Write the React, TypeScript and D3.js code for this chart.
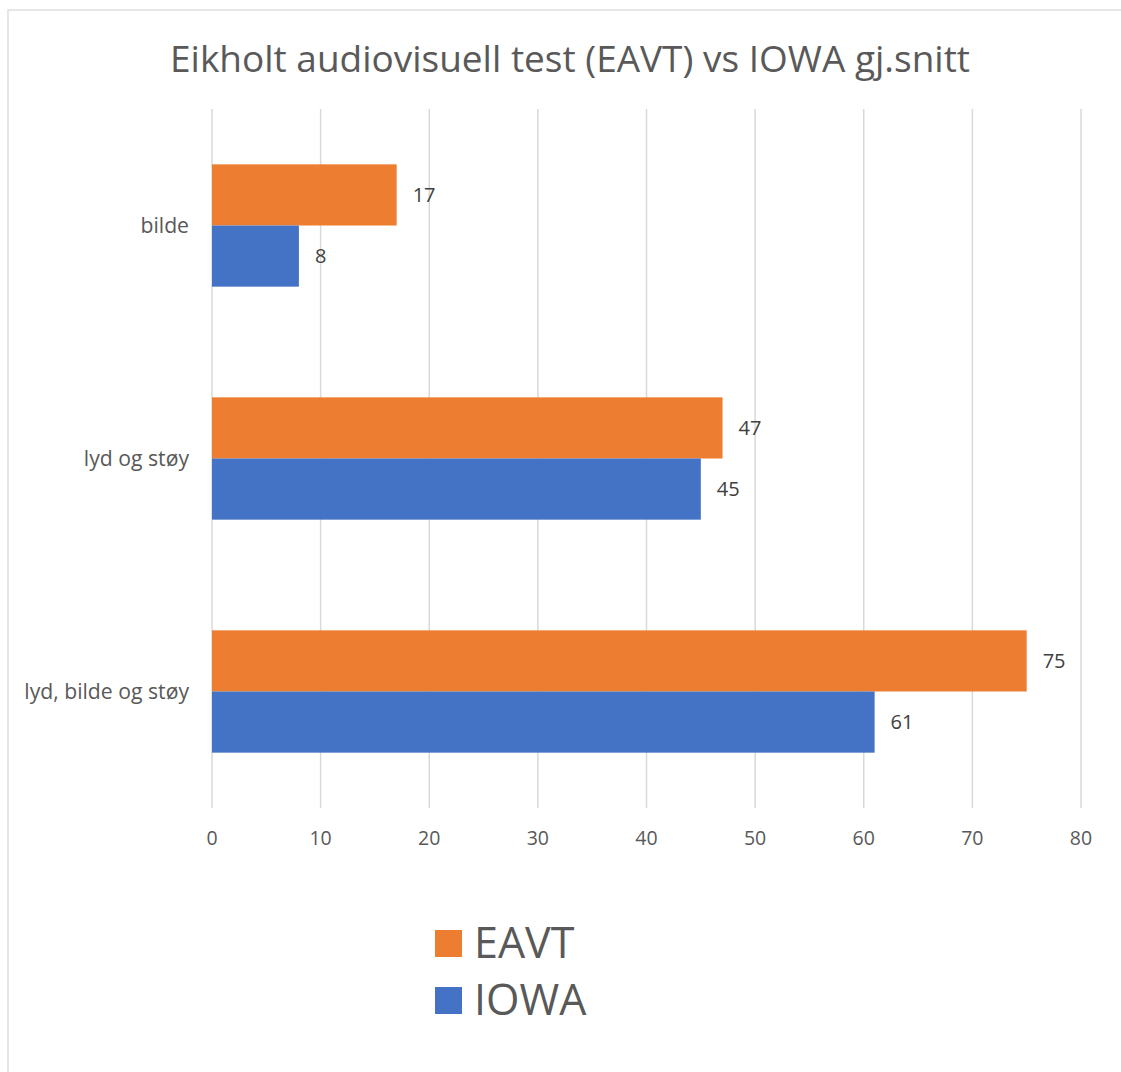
import React from "react";
import * as d3 from "d3";

const categories = ["bilde", "lyd og støy", "lyd, bilde og støy"];
const seriesNames = ["EAVT", "IOWA"];
const eavtValues = [17, 47, 75];
const iowaValues = [8, 45, 61];
const xTicks = [0, 10, 20, 30, 40, 50, 60, 70, 80];
const colors = ["#ED7D31", "#4472C4"];

const FONT = "'Open Sans', 'Noto Sans', sans-serif";

export default function App() {
  const W = 1121, H = 1072;
  const left = 212, right = 1081, top = 109, bottom = 808;
  const x = d3.scaleLinear().domain([0, 80]).range([left, right]);
  const y = d3.scaleBand<string>().domain(categories).range([top, bottom]).paddingInner(0.475).paddingOuter(0.2375);
  const inner = d3.scaleBand<string>().domain(seriesNames).range([0, y.bandwidth()]);
  const series = [eavtValues, iowaValues];

  return (
    <svg width={W} height={H} style={{ position: "absolute", left: 0, top: 0 }}>
      <rect x={0} y={0} width={W} height={H} fill="#fff" />
      <rect x={8} y={10} width={W + 10} height={H + 10} fill="#fff" stroke="#d9d9d9" strokeWidth={1.3} />
      <text x={570} y={72} textAnchor="middle" fontFamily={FONT} fontSize={37} fill="#595959" textLength={800} lengthAdjust="spacingAndGlyphs">
        Eikholt audiovisuell test (EAVT) vs IOWA gj.snitt
      </text>
      {xTicks.map((t) => (
        <g key={t}>
          <line x1={x(t)} x2={x(t)} y1={top} y2={bottom} stroke="#d9d9d9" strokeWidth={1.5} />
          <text x={x(t)} y={845} textAnchor="middle" fontFamily={FONT} fontSize={19.5} fill="#595959">{t}</text>
        </g>
      ))}
      {categories.map((c, i) => (
        <g key={c}>
          <text x={189} y={(y(c) as number) + y.bandwidth() / 2 + 7} textAnchor="end" fontFamily={FONT} fontSize={21.2} fill="#595959">{c}</text>
          {seriesNames.map((s, j) => {
            const v = series[j][i];
            const by = (y(c) as number) + (inner(s) as number);
            return (
              <g key={s}>
                <rect x={x(0)} y={by} width={x(v) - x(0)} height={inner.bandwidth()} fill={colors[j]} />
                <text x={x(v) + 16} y={by + inner.bandwidth() / 2 + 7} fontFamily={FONT} fontSize={20} fill="#404040">{v}</text>
              </g>
            );
          })}
        </g>
      ))}
      {seriesNames.map((s, j) => (
        <g key={s}>
          <rect x={435} y={930 + j * 57} width={27} height={27} fill={colors[j]} />
          <text x={474} y={958 + j * 57} fontFamily={FONT} fontSize={43} fill="#595959">{s}</text>
        </g>
      ))}
    </svg>
  );
}
